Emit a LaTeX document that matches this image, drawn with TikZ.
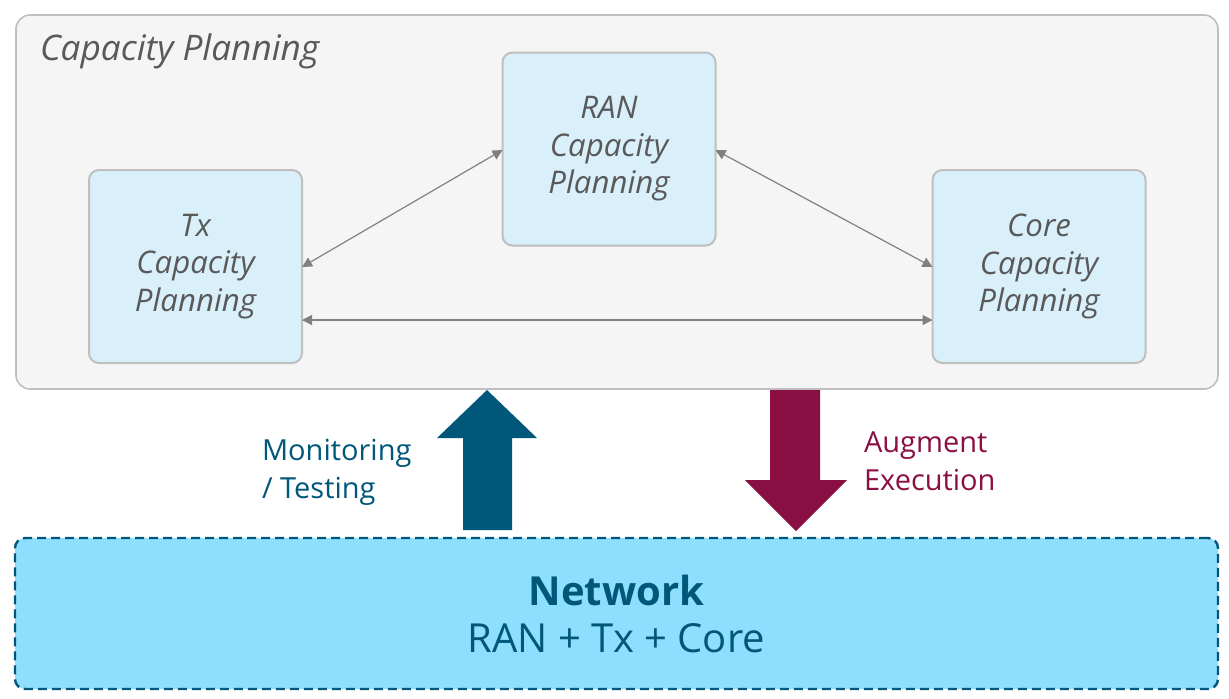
\documentclass[tikz,border=0pt]{standalone}
\usepackage{fontspec}
\setmainfont{Open Sans}
\usetikzlibrary{arrows.meta}

\definecolor{outerfill}{HTML}{F5F5F5}
\definecolor{boxline}{HTML}{BFBFBF}
\definecolor{planfill}{HTML}{D9F0FB}
\definecolor{textgray}{HTML}{595959}
\definecolor{linkgray}{HTML}{808080}
\definecolor{netfill}{HTML}{8DDFFD}
\definecolor{teal}{HTML}{01577A}
\definecolor{maroon}{HTML}{8A0F42}

\begin{document}
\begin{tikzpicture}[
		x=0.5pt, y=-0.5pt,
		every node/.style={inner sep=0pt, outer sep=0pt},
		planbox/.style={draw=boxline, line width=1pt, fill=planfill, rounded corners=5pt,
			minimum width=106.5pt, minimum height=96.5pt, align=center,
			font=\itshape\fontsize{15.6}{18.75}\selectfont, text=textgray},
		link/.style={draw=linkgray, line width=0.6pt,
			{Triangle[length=5pt,width=5pt]}-{Triangle[length=5pt,width=5pt]}}
	]
  \useasboundingbox (0,0) rectangle (1229,698);
  % capacity planning frame
  \node (frame) [draw=boxline, line width=0.8pt, fill=outerfill, rounded corners=7pt,
    minimum width=601pt, minimum height=187pt] at (617,202) {};
  \node (title) [anchor=west, font=\itshape\fontsize{17.6}{20}\selectfont, text=textgray] at (40,51) {Capacity Planning};
  \node (ran) [planbox] at (609,149) {RAN\\Capacity\\Planning};
  \node (tx) [planbox] at (195.5,266.5) {Tx\\Capacity\\Planning};
  \node (core) [planbox] at (1039,266.5) {Core\\Capacity\\Planning};
  \draw [link] (tx.east |- 0,267) -- (ran.west |- 0,150);
  \draw [link] (ran.east |- 0,150) -- (core.west |- 0,267);
  \draw [link] (tx.east |- 0,320) -- (core.west |- 0,320);
  % network
  \node (net) [draw=teal, line width=1.2pt, dash pattern=on 4.5pt off 2.5pt, fill=netfill, rounded corners=5pt,
    minimum width=601.5pt, minimum height=75.5pt, align=center, text=teal,
    font=\fontsize{20}{23.5}\selectfont] at (616.5,613.5)
    {\textbf{Network}\\RAN + Tx + Core};
  % up and down arrows
  \fill [teal] (463,530) -- (463,438) -- (437,438) -- (487,390) -- (537,438) -- (512,438) -- (512,530) -- cycle;
  \fill [maroon] (770,390) -- (770,480) -- (745,480) -- (796,531) -- (847,480) -- (820,480) -- (820,390) -- cycle;
  \node (mon) [anchor=west, align=left, text=teal, font=\fontsize{14.5}{19}\selectfont] at (262,472) {Monitoring\\/ Testing};
  \node (aug) [anchor=west, align=left, text=maroon, font=\fontsize{14.5}{19}\selectfont] at (864,461) {Augment\\Execution};
\end{tikzpicture}
\end{document}
